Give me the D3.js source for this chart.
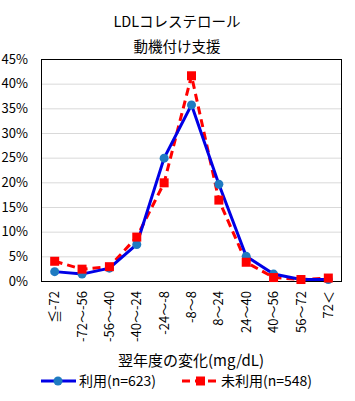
<!DOCTYPE html>
<html><head><meta charset="utf-8">
<script src="https://cdn.jsdelivr.net/npm/d3@7"></script>
<style>body{margin:0;background:#fff}svg{display:block}text{font-family:"Noto Sans CJK JP","Noto Sans",sans-serif;fill:#000}</style>
</head><body><svg id="c" width="355" height="401"></svg>
<script>
const categories = ["≦-72","-72〜-56","-56〜-40","-40〜-24","-24〜-8","-8〜8","8〜24","24〜40","40〜56","56〜72","72＜"];
const usedValues = [1.9,1.4,2.6,7.4,24.9,35.7,19.6,5.0,1.4,0.3,0.3];
const unusedValues = [4.0,2.4,2.9,8.9,19.9,41.6,16.4,3.8,0.7,0.3,0.6];
const yTicks = [0,5,10,15,20,25,30,35,40,45];
const titleLines = ["LDLコレステロール","動機付け支援"];
const xTitle = "翌年度の変化(mg/dL)";
const seriesNames = ["利用(n=623)","未利用(n=548)"];

const svg = d3.select("#c");
const L=41,R=342,T=59,B=281;
const x = d3.scaleBand().domain(categories).range([L,R]);
const y = d3.scaleLinear().domain([0,45]).range([B,T]);
const cx = d => x(d)+x.bandwidth()/2;

svg.append("g").selectAll("text").data(titleLines).join("text")
  .attr("x",177).attr("y",(d,i)=>27+i*25).attr("text-anchor","middle").attr("font-size",14.5).text(d=>d);

svg.append("g").selectAll("line").data(yTicks.filter(t=>t>0)).join("line")
  .attr("x1",L).attr("x2",R).attr("y1",d=>y(d)+0.5).attr("y2",d=>y(d)+0.5).attr("stroke","#d9d9d9");
svg.append("rect").attr("x",L+0.5).attr("y",T+0.5).attr("width",R-L-1).attr("height",B-T).attr("fill","none").attr("stroke","#000");

const ya = svg.append("g").attr("transform",`translate(${L},0)`)
  .call(d3.axisLeft(y).tickValues(yTicks).tickFormat(d=>d+"%").tickSize(0).tickPadding(13));
ya.select(".domain").remove();
ya.selectAll("text").attr("font-size",13).style("font-family",'"Noto Sans CJK JP",sans-serif');

const xa = svg.append("g").attr("transform",`translate(0,${B})`)
  .call(d3.axisBottom(x).tickSize(0).tickPadding(0));
xa.select(".domain").remove();
xa.selectAll("text").attr("font-size",13).style("font-family",'"Noto Sans CJK JP",sans-serif')
  .attr("transform","rotate(-90)").attr("text-anchor","end").attr("x",-10).attr("y",0).attr("dy","0.35em");

svg.append("text").attr("x",191).attr("y",366).attr("text-anchor","middle").attr("font-size",15).text(xTitle);

const line = d3.line().x((d,i)=>cx(categories[i])).y(d=>y(d));
svg.append("path").datum(unusedValues).attr("d",line).attr("fill","none").attr("stroke","#ff0000").attr("stroke-width",3).attr("stroke-dasharray","8,5");
svg.append("path").datum(usedValues).attr("d",line).attr("fill","none").attr("stroke","#0000e6").attr("stroke-width",3);
svg.append("g").selectAll("circle").data(usedValues).join("circle")
  .attr("cx",(d,i)=>cx(categories[i])).attr("cy",d=>y(d)).attr("r",4.5).attr("fill","#1f7bc1");
svg.append("g").selectAll("rect").data(unusedValues).join("rect")
  .attr("x",(d,i)=>cx(categories[i])-4.5).attr("y",d=>y(d)-4.5).attr("width",9).attr("height",9).attr("fill","#ff0000");

// legend
const ly=381;
svg.append("line").attr("x1",41).attr("x2",76).attr("y1",ly).attr("y2",ly).attr("stroke","#0000e6").attr("stroke-width",3);
svg.append("circle").attr("cx",58).attr("cy",ly).attr("r",4.5).attr("fill","#1f7bc1");
svg.append("text").attr("x",79).attr("y",ly+5).attr("font-size",14).text(seriesNames[0]);
svg.append("line").attr("x1",182).attr("x2",220).attr("y1",ly).attr("y2",ly).attr("stroke","#ff0000").attr("stroke-width",3).attr("stroke-dasharray","8,5");
svg.append("rect").attr("x",196).attr("y",ly-4.5).attr("width",9).attr("height",9).attr("fill","#ff0000");
svg.append("text").attr("x",221).attr("y",ly+5).attr("font-size",14).text(seriesNames[1]);
</script></body></html>
